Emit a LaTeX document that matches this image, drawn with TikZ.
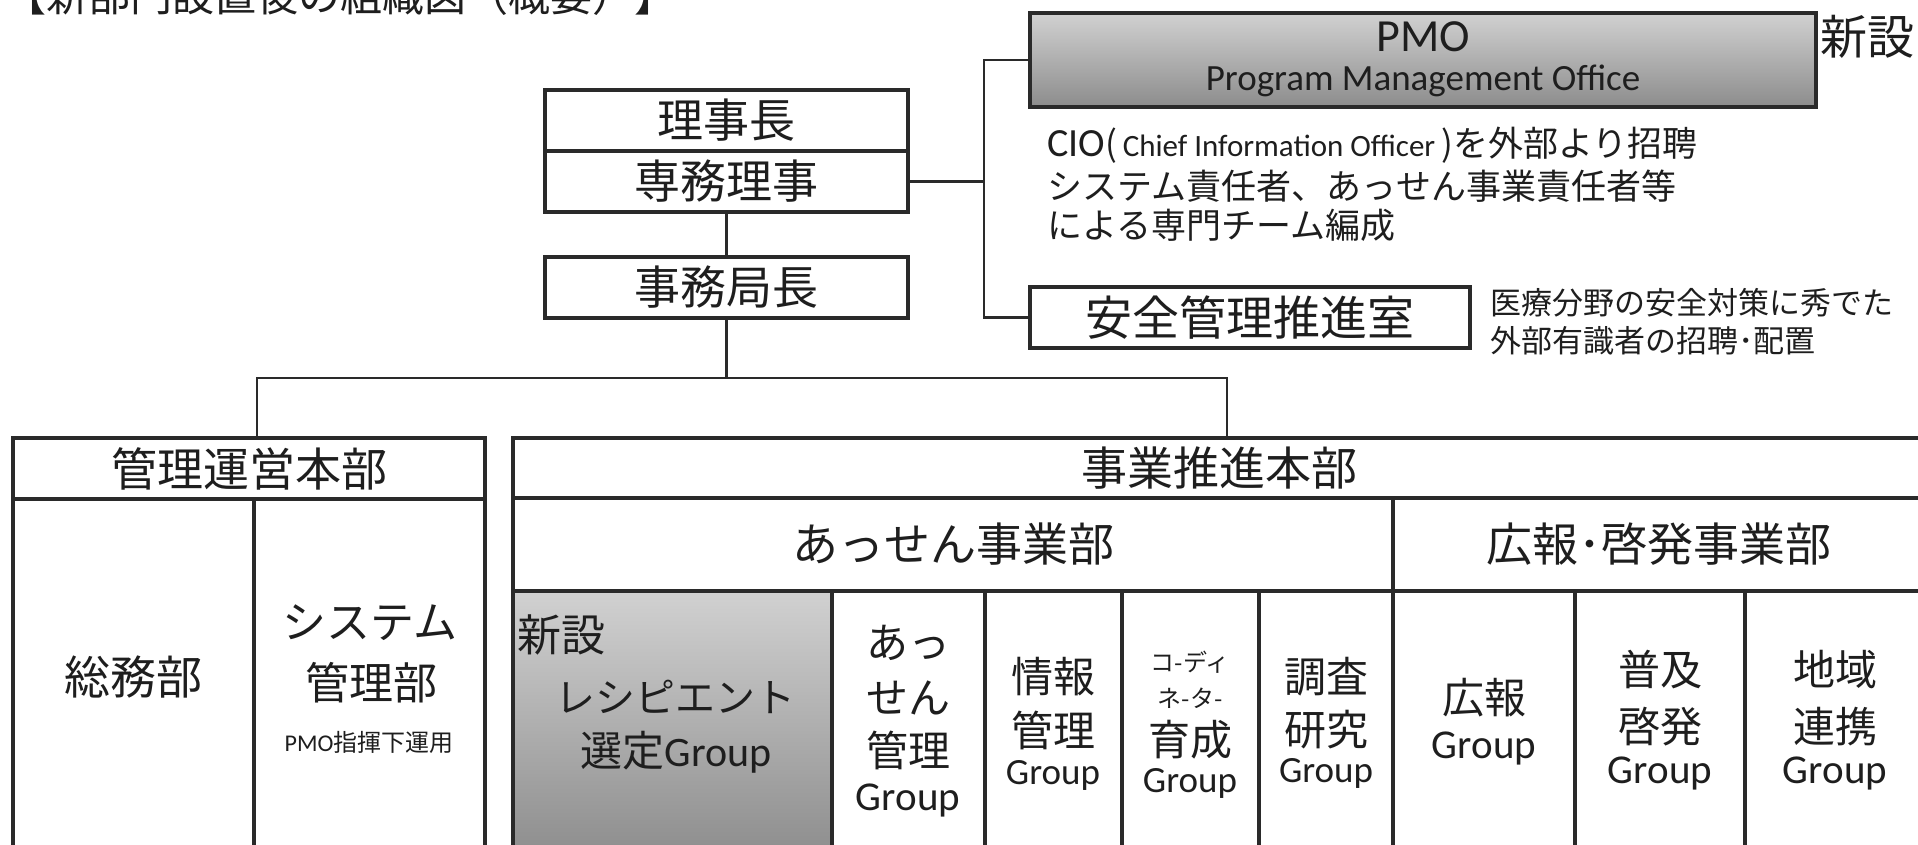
\documentclass[tikz,border=0pt]{standalone}
\usepackage{fontspec}
\setmainfont{Noto Sans CJK JP}
\newfontfamily\lat{Carlito}
\newcommand\fsz[1]{\fontsize{#1}{#1}\selectfont}
\definecolor{ln}{HTML}{2A2A2A}
\definecolor{tx}{HTML}{1E1E1E}
\begin{document}
\begin{tikzpicture}[x=1pt,y=-1pt,
  box/.style={draw=ln, line width=4.2pt, inner sep=0pt, text=tx},
  conn/.style={draw=ln, line width=2.8pt},
  txt/.style={inner sep=0pt, text=tx},
  graycell/.style={top color=black!18, bottom color=black!45}]
\useasboundingbox (0,0) rectangle (1918,845);
\fill[white] (0,0) rectangle (1918,845);
\clip (0,0) rectangle (1918,845);

% title (cut off at top)
\node[txt, anchor=base west] (title) at (4,12) {\fsz{42}【新部門設置後の組織図（概要）】};

% top executives
\node[box, minimum width=363pt, minimum height=61pt] (richo) at (726.5,120.5) {\fsz{46}理事長};
\node[box, minimum width=363pt, minimum height=61pt] (senmu) at (726.5,181.5) {\fsz{46}専務理事};
\node[box, minimum width=363pt, minimum height=61pt] (jimu) at (726.5,287.5) {\fsz{46}事務局長};

% PMO
\node[box, graycell, minimum width=786pt, minimum height=94pt] (pmo) at (1423,60) {};
\node[txt] (pmoA) at (1423,37) {\lat\fsz{46}PMO};
\node[txt] (pmoB) at (1423,81) {\lat\fsz{37}Program Management Office};
\node[txt] (pmonew) at (1867,37) {\fsz{47}新設};

\node[txt, anchor=west] (cio1) at (1047,145) {\fsz{35}{\lat\fsz{40}CIO}(\,{\lat\fsz{31}Chief Information Officer}\,)を外部より招聘};
\node[txt, anchor=west] (cio2) at (1047,186) {\fsz{35}システム責任者、あっせん事業責任者等};
\node[txt, anchor=west] (cio3) at (1047,225) {\fsz{35}による専門チーム編成};

% safety office
\node[box, minimum width=440pt, minimum height=61pt] (anzen) at (1250,317.5) {\fsz{47}安全管理推進室};
\node[txt, anchor=west] (iryo1) at (1490,303) {\fsz{31}医療分野の安全対策に秀でた};
\node[txt, anchor=west] (iryo2) at (1490,341) {\fsz{31}外部有識者の招聘･配置};

% connectors top
\coordinate (b1) at (984,181.5);
\draw[conn] (senmu.east) -- (b1);
\draw[conn] (pmo.west) -| (b1) |- (anzen.west);
\draw[conn] (senmu.south) -- (jimu.north);

% left headquarters
\node[box, minimum width=472pt, minimum height=61pt] (kanriH) at (249,468.5) {\fsz{46}管理運営本部};
\node[box, minimum width=241pt, minimum height=361pt] (soumu) at (133.5,679.5) {};
\node[txt] (soumuT) at (133,677) {\fsz{46}総務部};
\node[box, minimum width=231pt, minimum height=361pt] (system) at (369.5,679.5) {};
\node[txt] (sysA) at (370,623) {\fsz{44}システム};
\node[txt] (sysB) at (371,683) {\fsz{44}管理部};
\node[txt] (sysC) at (369,742) {\fsz{24}{\lat\fsz{24}PMO}指揮下運用};

% right headquarters
\node[box, minimum width=1412pt, minimum height=60pt] (jigyoH) at (1219,468) {\fsz{46}事業推進本部};
\node[box, minimum width=880pt, minimum height=93pt] (assenH) at (953,544.5) {\fsz{46}あっせん事業部};
\node[box, minimum width=532pt, minimum height=93pt] (kouhouH) at (1659,544.5) {\fsz{46}広報･啓発事業部};

% groups
\node[box, graycell, minimum width=319pt, minimum height=269pt] (g1) at (672.5,725.5) {};
\node[box, minimum width=153pt, minimum height=269pt] (g2) at (908.5,725.5) {};
\node[box, minimum width=137pt, minimum height=269pt] (g3) at (1053.5,725.5) {};
\node[box, minimum width=137pt, minimum height=269pt] (g4) at (1190.5,725.5) {};
\node[box, minimum width=134pt, minimum height=269pt] (g5) at (1326,725.5) {};
\node[box, minimum width=182pt, minimum height=269pt] (g6) at (1484,725.5) {};
\node[box, minimum width=170pt, minimum height=269pt] (g7) at (1660,725.5) {};
\node[box, minimum width=180pt, minimum height=269pt] (g8) at (1835,725.5) {};

\node[txt, anchor=west] (g1a) at (517,635) {\fsz{44}新設};
\node[txt] (g1b) at (675,697) {\fsz{40}レシピエント};
\node[txt] (g1c) at (676,752) {\fsz{42}選定{\lat\fsz{42}Group}};

\node[txt] (g2a) at (908,643) {\fsz{42}あっ};
\node[txt] (g2b) at (908,698) {\fsz{42}せん};
\node[txt] (g2c) at (908,750) {\fsz{42}管理};
\node[txt] (g2d) at (908,800) {\lat\fsz{41}Group};

\node[txt] (g3a) at (1053,677) {\fsz{42}情報};
\node[txt] (g3b) at (1053,730) {\fsz{42}管理};
\node[txt] (g3c) at (1053,775) {\lat\fsz{37}Group};

\node[txt] (g4a) at (1190,662) {\fsz{24}コ-ディ};
\node[txt] (g4b) at (1190,698) {\fsz{24}ネ-タ-};
\node[txt] (g4c) at (1190,740) {\fsz{42}育成};
\node[txt] (g4d) at (1190,783) {\lat\fsz{37}Group};

\node[txt] (g5a) at (1326,677) {\fsz{42}調査};
\node[txt] (g5b) at (1326,730) {\fsz{42}研究};
\node[txt] (g5c) at (1326,773) {\lat\fsz{37}Group};

\node[txt] (g6a) at (1484,698) {\fsz{42}広報};
\node[txt] (g6b) at (1484,748) {\lat\fsz{41}Group};

\node[txt] (g7a) at (1660,670) {\fsz{42}普及};
\node[txt] (g7b) at (1660,727) {\fsz{42}啓発};
\node[txt] (g7c) at (1660,773) {\lat\fsz{41}Group};

\node[txt] (g8a) at (1835,670) {\fsz{42}地域};
\node[txt] (g8b) at (1835,727) {\fsz{42}連携};
\node[txt] (g8c) at (1835,773) {\lat\fsz{41}Group};

% connectors bottom
\coordinate (b2) at (726.5,378);
\draw[conn] (jimu.south) -- (b2);
\draw[conn] ([xshift=8pt]kanriH.north) |- (b2) -| ([xshift=8pt]jigyoH.north);
\end{tikzpicture}
\end{document}
